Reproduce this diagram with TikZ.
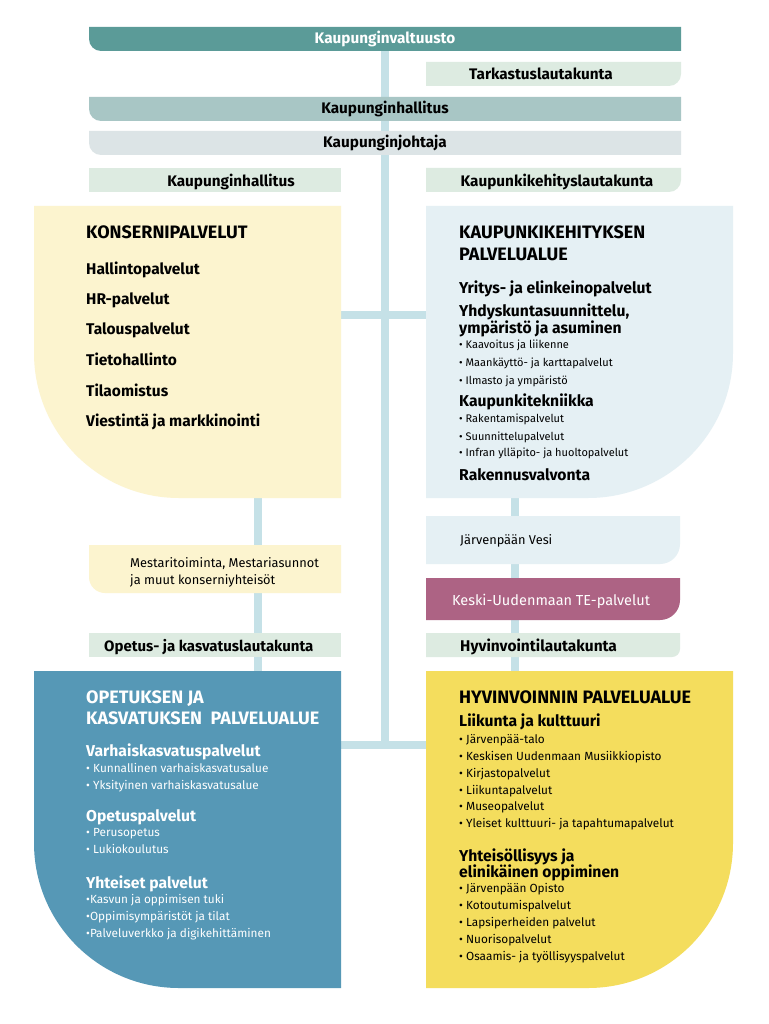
\documentclass[tikz,border=0pt]{standalone}
\usepackage{fontspec}
\setmainfont{Fira Sans}
\definecolor{cValt}{HTML}{5B9B98}
\definecolor{cHall}{HTML}{A8C6C5}
\definecolor{cJoht}{HTML}{DCE4E6}
\definecolor{cLaut}{HTML}{DDEBE1}
\definecolor{cPaleY}{HTML}{FCF4CF}
\definecolor{cPaleB}{HTML}{E5F0F4}
\definecolor{cMauve}{HTML}{AD6384}
\definecolor{cBlue}{HTML}{5698B6}
\definecolor{cYell}{HTML}{F4DD5D}
\definecolor{cLine}{HTML}{C5E1E7}
\newcommand\boxBL[6]{\fill[#1] (#2,#3) -- (#4,#3) -- (#4,#5) -- ({#2+#6},#5) .. controls ({#2+#6*0.4477},#5) and (#2,{#5-#6*0.4477}) .. (#2,{#5-#6}) -- cycle;}
\newcommand\boxBR[6]{\fill[#1] (#2,#3) -- (#4,#3) -- (#4,{#5-#6}) .. controls (#4,{#5-#6*0.4477}) and ({#4-#6*0.4477},#5) .. ({#4-#6},#5) -- (#2,#5) -- cycle;}
\begin{document}
\begin{tikzpicture}[x=1pt,y=-1pt,
  conn/.style={draw=cLine,line width=8pt},
  tl/.style={anchor=base west,inner sep=0pt,font=\fontsize{15.5}{17}\selectfont\bfseries},
  tc/.style={anchor=base,inner sep=0pt,font=\fontsize{15.3}{17}\selectfont\bfseries},
  hd/.style={anchor=base west,inner sep=0pt,font=\fontsize{18}{20}\selectfont\bfseries},
  sh/.style={anchor=base west,inner sep=0pt,font=\fontsize{15.7}{18}\selectfont\bfseries},
  it/.style={anchor=base west,inner sep=0pt,font=\fontsize{11}{13}\selectfont},
  itb/.style={anchor=base west,inner sep=0pt,font=\fontsize{11.8}{13}\selectfont},
  nm/.style={anchor=base west,inner sep=0pt,font=\fontsize{12.8}{14}\selectfont}]
\useasboundingbox (0,0) rectangle (768,1024);
\fill[white] (0,0) rectangle (768,1024);
% connector coordinates
\coordinate (trTop) at (385,51);
\coordinate (trBot) at (385,745);
\coordinate (hUL) at (341,315);
\coordinate (hUR) at (426,315);
\coordinate (hLL) at (341,745);
\coordinate (hLR) at (426,745);
\coordinate (vLT) at (258,498);
\coordinate (vLB) at (258,671);
\coordinate (vRT) at (515,498);
\coordinate (vRB) at (515,671);
\draw[conn] (trTop) -- (trBot);
\draw[conn] (hUL) -- (hUR);
\draw[conn] (hLL) -- (hLR);
\draw[conn] (vLT) -- (vLB);
\draw[conn] (vRT) -- (vRB);
% top bars
\boxBL{cValt}{89}{27}{681}{51}{12}
\boxBR{cLaut}{426}{62}{681}{86}{12}
\boxBL{cHall}{89}{97}{681}{121}{12}
\boxBL{cJoht}{89}{131}{681}{155}{12}
\fill[cLaut] (89,168) rectangle (341,192);
\boxBR{cLaut}{426}{168}{681}{192}{12}
\node[tc,text=white] (valt) at (385,44) {Kaupunginvaltuusto};
\node[tc] (tark) at (541,80) {Tarkastuslautakunta};
\node[tc] (hall) at (385,114) {Kaupunginhallitus};
\node[tc] (joht) at (385,148) {Kaupunginjohtaja};
\node[tc] (hall2) at (231,187) {Kaupunginhallitus};
\node[tc] (kkl) at (557,187) {Kaupunkikehityslautakunta};
% Konsernipalvelut
\boxBL{cPaleY}{34}{206}{341}{498}{145}
\node[hd] (kon) at (86,239) {KONSERNIPALVELUT};
\node[tl] (k1) at (86,274) {Hallintopalvelut};
\node[tl] (k2) at (86,304) {HR-palvelut};
\node[tl] (k3) at (86,334) {Talouspalvelut};
\node[tl] (k4) at (86,365) {Tietohallinto};
\node[tl] (k5) at (86,396) {Tilaomistus};
\node[tl] (k6) at (86,426) {Viestintä ja markkinointi};
% Kaupunkikehitys
\boxBR{cPaleB}{426}{206}{733}{498}{145}
\node[hd] (kk1) at (459,238) {KAUPUNKIKEHITYKSEN};
\node[hd] (kk2) at (459,260) {PALVELUALUE};
\node[sh] (kk3) at (459,293) {Yritys- ja elinkeinopalvelut};
\node[sh] (kk4) at (459,316) {Yhdyskuntasuunnittelu,};
\node[sh] (kk5) at (459,333) {ympäristö ja asuminen};
\node[it] (kk6) at (459,348) {• Kaavoitus ja liikenne};
\node[it] (kk7) at (459,366) {• Maankäyttö- ja karttapalvelut};
\node[it] (kk8) at (459,384) {• Ilmasto ja ympäristö};
\node[sh] (kk9) at (459,406) {Kaupunkitekniikka};
\node[it] (kk10) at (459,422) {• Rakentamispalvelut};
\node[it] (kk11) at (459,440) {• Suunnittelupalvelut};
\node[it] (kk12) at (459,456) {• Infran ylläpito- ja huoltopalvelut};
\node[sh] (kk13) at (459,480) {Rakennusvalvonta};
% middle boxes
\boxBL{cPaleY}{89}{545}{341}{593}{16}
\node[nm] (mes1) at (130,567) {Mestaritoiminta, Mestariasunnot};
\node[nm] (mes2) at (130,584) {ja muut konserniyhteisöt};
\boxBR{cPaleB}{426}{516}{680}{564}{20}
\node[nm] (vesi) at (460,544) {Järvenpään Vesi};
\boxBR{cMauve}{426}{578}{680}{620}{20}
\node[tc,text=white,font=\fontsize{14.5}{16}\selectfont] (te) at (551,605) {Keski-Uudenmaan TE-palvelut};
\fill[cLaut] (89,633) rectangle (341,657);
\node[tl,font=\fontsize{15}{17}\selectfont\bfseries] (okl) at (104,651) {Opetus- ja kasvatuslautakunta};
\boxBR{cLaut}{426}{633}{680}{657}{8}
\node[tl] (hvl) at (460,651) {Hyvinvointilautakunta};
% Opetus box
\boxBL{cBlue}{34}{671}{341}{988}{145}
\begin{scope}[every node/.append style={text=white}]
\node[hd] (o1) at (86,703) {OPETUKSEN JA};
\node[hd] (o2) at (86,724) {KASVATUKSEN\ \ PALVELUALUE};
\node[sh] (o3) at (86,756) {Varhaiskasvatuspalvelut};
\node[itb] (o4) at (86,772) {• Kunnallinen varhaiskasvatusalue};
\node[itb] (o5) at (86,789) {• Yksityinen varhaiskasvatusalue};
\node[sh] (o6) at (86,821) {Opetuspalvelut};
\node[itb] (o7) at (86,836) {• Perusopetus};
\node[itb] (o8) at (86,853) {• Lukiokoulutus};
\node[sh] (o9) at (86,888) {Yhteiset palvelut};
\node[itb] (o10) at (86,903) {•Kasvun ja oppimisen tuki};
\node[itb] (o11) at (86,920) {•Oppimisympäristöt ja tilat};
\node[itb] (o12) at (86,937) {•Palveluverkko ja digikehittäminen};
\end{scope}
% Hyvinvointi box
\boxBR{cYell}{426}{671}{733}{988}{145}
\node[hd] (h1) at (459,703) {HYVINVOINNIN PALVELUALUE};
\node[sh] (h2) at (459,726) {Liikunta ja kulttuuri};
\node[itb] (h3) at (459,743) {• Järvenpää-talo};
\node[itb] (h4) at (459,760) {• Keskisen Uudenmaan Musiikkiopisto};
\node[itb] (h5) at (459,777) {• Kirjastopalvelut};
\node[itb] (h6) at (459,794) {• Liikuntapalvelut};
\node[itb] (h7) at (459,810) {• Museopalvelut};
\node[itb] (h8) at (459,827) {• Yleiset kulttuuri- ja tapahtumapalvelut};
\node[sh] (h9) at (459,861) {Yhteisöllisyys ja};
\node[sh] (h10) at (459,877) {elinikäinen oppiminen};
\node[itb] (h11) at (459,892) {• Järvenpään Opisto};
\node[itb] (h12) at (459,909) {• Kotoutumispalvelut};
\node[itb] (h13) at (459,926) {• Lapsiperheiden palvelut};
\node[itb] (h14) at (459,943) {• Nuorisopalvelut};
\node[itb] (h15) at (459,960) {• Osaamis- ja työllisyyspalvelut};
\end{tikzpicture}
\end{document}
